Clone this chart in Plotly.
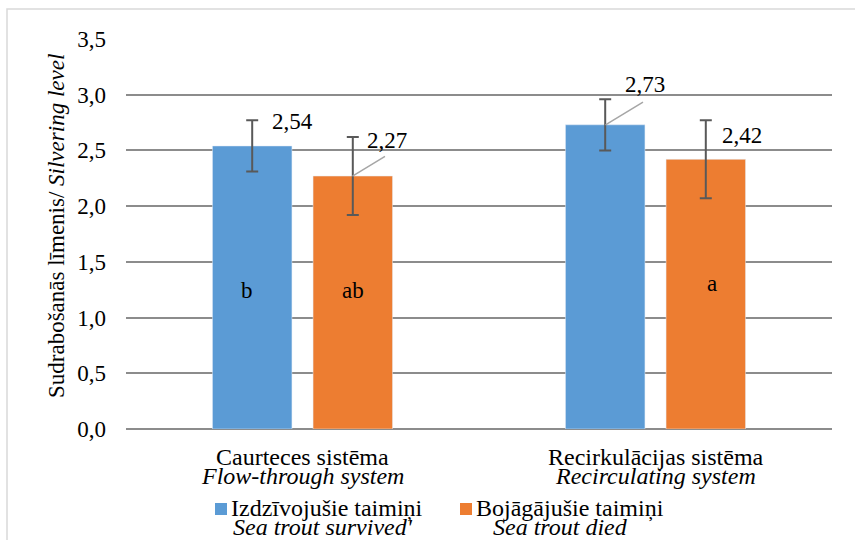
import plotly.graph_objects as go

# ---------------- data ----------------
categories = ["Caurteces sistēma", "Recirkulācijas sistēma"]
categories_en = ["Flow-through system", "Recirculating system"]
series_names = ["Izdzīvojušie taimiņi", "Bojāgājušie taimiņi"]
series_names_en = ["Sea trout survived'", "Sea trout died"]
survived = [2.54, 2.73]
died = [2.27, 2.42]
survived_err = [0.23, 0.23]
died_err = [0.35, 0.35]
survived_letters = ["b", ""]
died_letters = ["ab", "a"]
letter_levels_survived = [1.24, None]
letter_levels_died = [1.24, 1.31]
y_ticks = [0, 0.5, 1.0, 1.5, 2.0, 2.5, 3.0, 3.5]

# ---------------- style ----------------
FONT = "Liberation Serif, Times New Roman, serif"
BLUE = "#5b9bd5"
ORANGE = "#ed7d31"
GRID = "#8c8c8c"
W, H = 855, 540
L, R, T, B = 126, 23, 39, 111
PW, PH = W - L - R, H - T - B


def px(x):
    return (x - L) / PW


def py(y):
    return (H - B - y) / PH


def fmt(v):
    return f"{v:.2f}".replace(".", ",")


fig = go.Figure()
err_style = dict(type="data", color="#595959", thickness=2, width=6, visible=True)
fig.add_trace(go.Bar(x=categories, y=survived, name=series_names[0], marker_color=BLUE,
                     error_y=dict(array=survived_err, **err_style)))
fig.add_trace(go.Bar(x=categories, y=died, name=series_names[1], marker_color=ORANGE,
                     error_y=dict(array=died_err, **err_style)))

ann = []
# data labels: (series values, index, xshift, yshift)
label_offsets = [
    (survived, 0, -32.5, 24),
    (died, 0, 62.5, 36),
    (survived, 1, -32.5, 40),
    (died, 1, 64.5, 24),
]
for vals, i, xs, ys in label_offsets:
    ann.append(dict(x=categories[i], y=vals[i], xref="x", yref="y", text=fmt(vals[i]),
                    showarrow=False, xanchor="left", yanchor="middle", xshift=xs, yshift=ys,
                    font=dict(family=FONT, size=23, color="#000")))

# leader lines (from bar top to label)
leaders = [(died, 0, 50, 33, -20), (survived, 1, -50, 38, -23)]
for vals, i, xs, ax, ay in leaders:
    ann.append(dict(x=categories[i], y=vals[i], xref="x", yref="y", text=" ", xshift=xs,
                    showarrow=True, arrowhead=0, arrowwidth=1.5, arrowcolor="#a6a6a6",
                    ax=ax, ay=ay, standoff=0, startstandoff=0, borderpad=0,
                    font=dict(size=1)))

# significance letters
for i, c in enumerate(categories):
    if survived_letters[i]:
        ann.append(dict(x=c, y=letter_levels_survived[i], xref="x", yref="y",
                        text=survived_letters[i], showarrow=False, xshift=-55.5,
                        font=dict(family=FONT, size=23, color="#000")))
    if died_letters[i]:
        ann.append(dict(x=c, y=letter_levels_died[i], xref="x", yref="y",
                        text=died_letters[i], showarrow=False,
                        xshift=50.5 if i == 0 else 56.5,
                        font=dict(family=FONT, size=23, color="#000")))

# category labels (two lines, tight spacing)
for i, c in enumerate(categories):
    ann.append(dict(x=c, y=py(457), xref="x", yref="paper", text=c, showarrow=False,
                    yanchor="middle", font=dict(family=FONT, size=24, color="#000")))
    ann.append(dict(x=c, y=py(476), xref="x", yref="paper", text=f"<i>{categories_en[i]}</i>",
                    showarrow=False, yanchor="middle",
                    font=dict(family=FONT, size=24, color="#000")))

# y-axis title
ann.append(dict(x=px(57), y=py(226), xref="paper", yref="paper",
                text="Sudrabošanās līmenis/ <i>Silvering level</i>", textangle=-90,
                showarrow=False, xanchor="center", yanchor="middle",
                font=dict(family=FONT, size=23, color="#000")))

# legend (manual)
shapes = []
legend_items = [(BLUE, 215, 229, 231), (ORANGE, 460, 474, 491)]
for k, (col, sx, tx1, tx2) in enumerate(legend_items):
    shapes.append(dict(type="rect", xref="paper", yref="paper", x0=px(sx), x1=px(sx + 12),
                       y0=py(503), y1=py(515), fillcolor=col, line=dict(width=0)))
    ann.append(dict(x=px(tx1), y=py(508), xref="paper", yref="paper", text=series_names[k],
                    showarrow=False, xanchor="left", yanchor="middle",
                    font=dict(family=FONT, size=24, color="#000")))
    ann.append(dict(x=px(tx2), y=py(527), xref="paper", yref="paper",
                    text=f"<i>{series_names_en[k]}</i>",
                    showarrow=False, xanchor="left", yanchor="middle",
                    font=dict(family=FONT, size=24, color="#000")))

# outer chart border
shapes.append(dict(type="rect", xref="paper", yref="paper", x0=px(7), x1=px(870),
                   y0=py(560), y1=py(9), line=dict(color="#d9d9d9", width=1.5),
                   fillcolor="rgba(0,0,0,0)", layer="below"))

fig.update_layout(
    width=W, height=H,
    margin=dict(l=L, r=R, t=T, b=B, autoexpand=False),
    paper_bgcolor="white", plot_bgcolor="white",
    barmode="group", bargap=0.43, bargroupgap=0.21,
    showlegend=False,
    separators=", ",
    font=dict(family=FONT, size=23, color="#000"),
    annotations=ann, shapes=shapes,
)
fig.update_xaxes(showticklabels=False, showgrid=False, showline=False, zeroline=False,
                 ticks="")
fig.update_yaxes(range=[0, 3.5], tickvals=y_ticks, tickformat=".1f", showgrid=True,
                 gridcolor=GRID, gridwidth=1.5, zeroline=True, zerolinecolor=GRID,
                 zerolinewidth=1.5, showline=False, ticks="", ticklabelstandoff=19,
                 tickfont=dict(family=FONT, size=23, color="#000"))

fig.write_html("out.html", config={"displayModeBar": False},
               post_script="document.body.style.margin='0';document.body.style.overflow='hidden';")
